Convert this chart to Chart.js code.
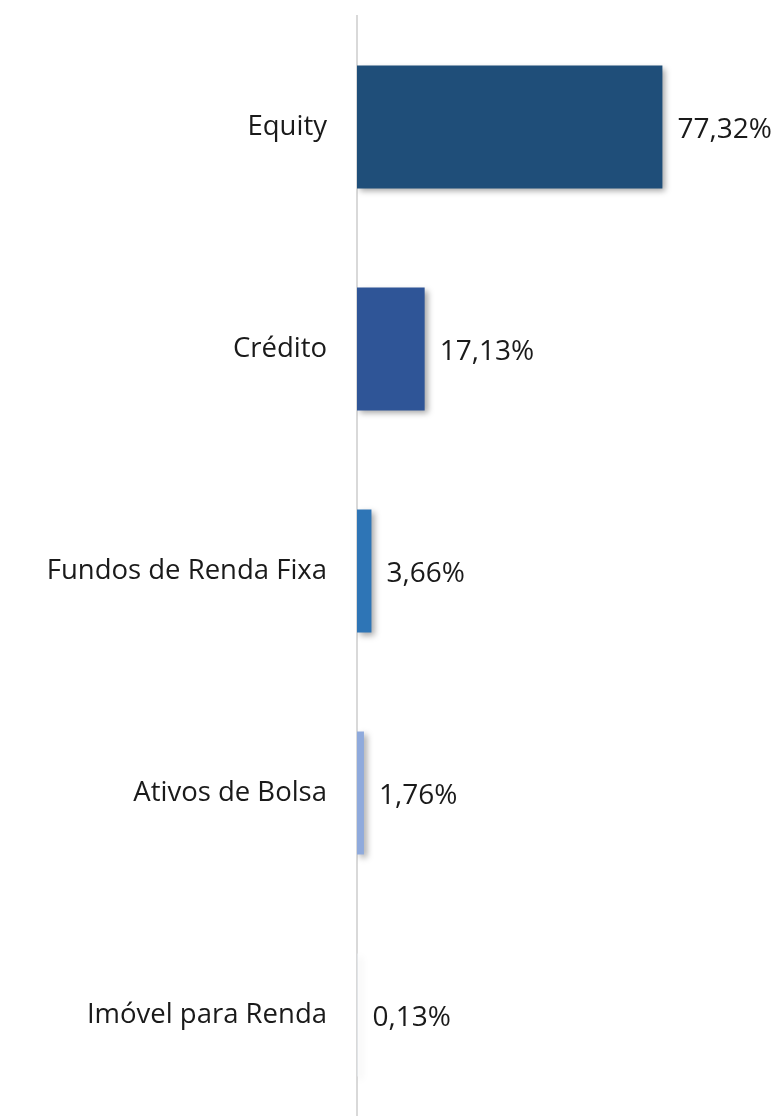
<!DOCTYPE html>
<html>
<head>
<meta charset="utf-8">
<script src="https://cdn.jsdelivr.net/npm/chart.js@4"></script>
<style>
  html, body { margin: 0; padding: 0; background: #fff; overflow: hidden; }
  canvas { display: block; }
</style>
</head>
<body>
<canvas id="chart" width="776" height="1126"></canvas>
<script>
// dados
const categorias = ['Equity', 'Crédito', 'Fundos de Renda Fixa', 'Ativos de Bolsa', 'Imóvel para Renda'];
const valores = [77.32, 17.13, 3.66, 1.76, 0.13];
const cores = ['#1f4e79', '#2f5597', '#2e75b6', '#8faadc', '#eef3fa'];

const fonte = '"Open Sans", "Noto Sans", sans-serif';

// sombra nas barras
const sombra = {
  id: 'sombra',
  beforeDatasetDraw(chart) {
    const ctx = chart.ctx;
    ctx.save();
    ctx.shadowColor = 'rgba(0,0,0,0.35)';
    ctx.shadowBlur = 6;
    ctx.shadowOffsetX = 3;
    ctx.shadowOffsetY = 3;
  },
  afterDatasetDraw(chart) {
    chart.ctx.restore();
  }
};

// rótulos de valor
const rotulos = {
  id: 'rotulos',
  afterDatasetsDraw(chart) {
    const ctx = chart.ctx;
    const meta = chart.getDatasetMeta(0);
    ctx.save();
    ctx.font = '28px ' + fonte;
    ctx.fillStyle = '#1a1a1a';
    ctx.textAlign = 'left';
    ctx.textBaseline = 'middle';
    meta.data.forEach((bar, i) => {
      const txt = valores[i].toFixed(2).replace('.', ',') + '%';
      ctx.fillText(txt, bar.x + 15, bar.y + 3);
    });
    ctx.restore();
  }
};

new Chart(document.getElementById('chart').getContext('2d'), {
  type: 'bar',
  data: {
    labels: categorias,
    datasets: [{
      data: valores,
      backgroundColor: cores,
      borderWidth: 0,
      categoryPercentage: 1,
      barPercentage: 0.554
    }]
  },
  options: {
    indexAxis: 'y',
    responsive: false,
    animation: false,
    layout: { padding: { top: 16, right: 24, left: 0, bottom: 0 } },
    plugins: {
      legend: { display: false },
      tooltip: { enabled: false }
    },
    scales: {
      x: {
        display: false,
        min: 0,
        max: 100
      },
      y: {
        afterFit: (s) => {
          s.width = 357;
          s.paddingTop = 0;
          s.paddingBottom = 0;
        },
        grid: { display: false, drawTicks: false },
        border: { display: true, color: '#d9d9d9', width: 2 },
        ticks: {
          padding: 30,
          color: '#1a1a1a',
          font: { family: fonte, size: 27.5 }
        }
      }
    }
  },
  plugins: [sombra, rotulos]
});
</script>
</body>
</html>
